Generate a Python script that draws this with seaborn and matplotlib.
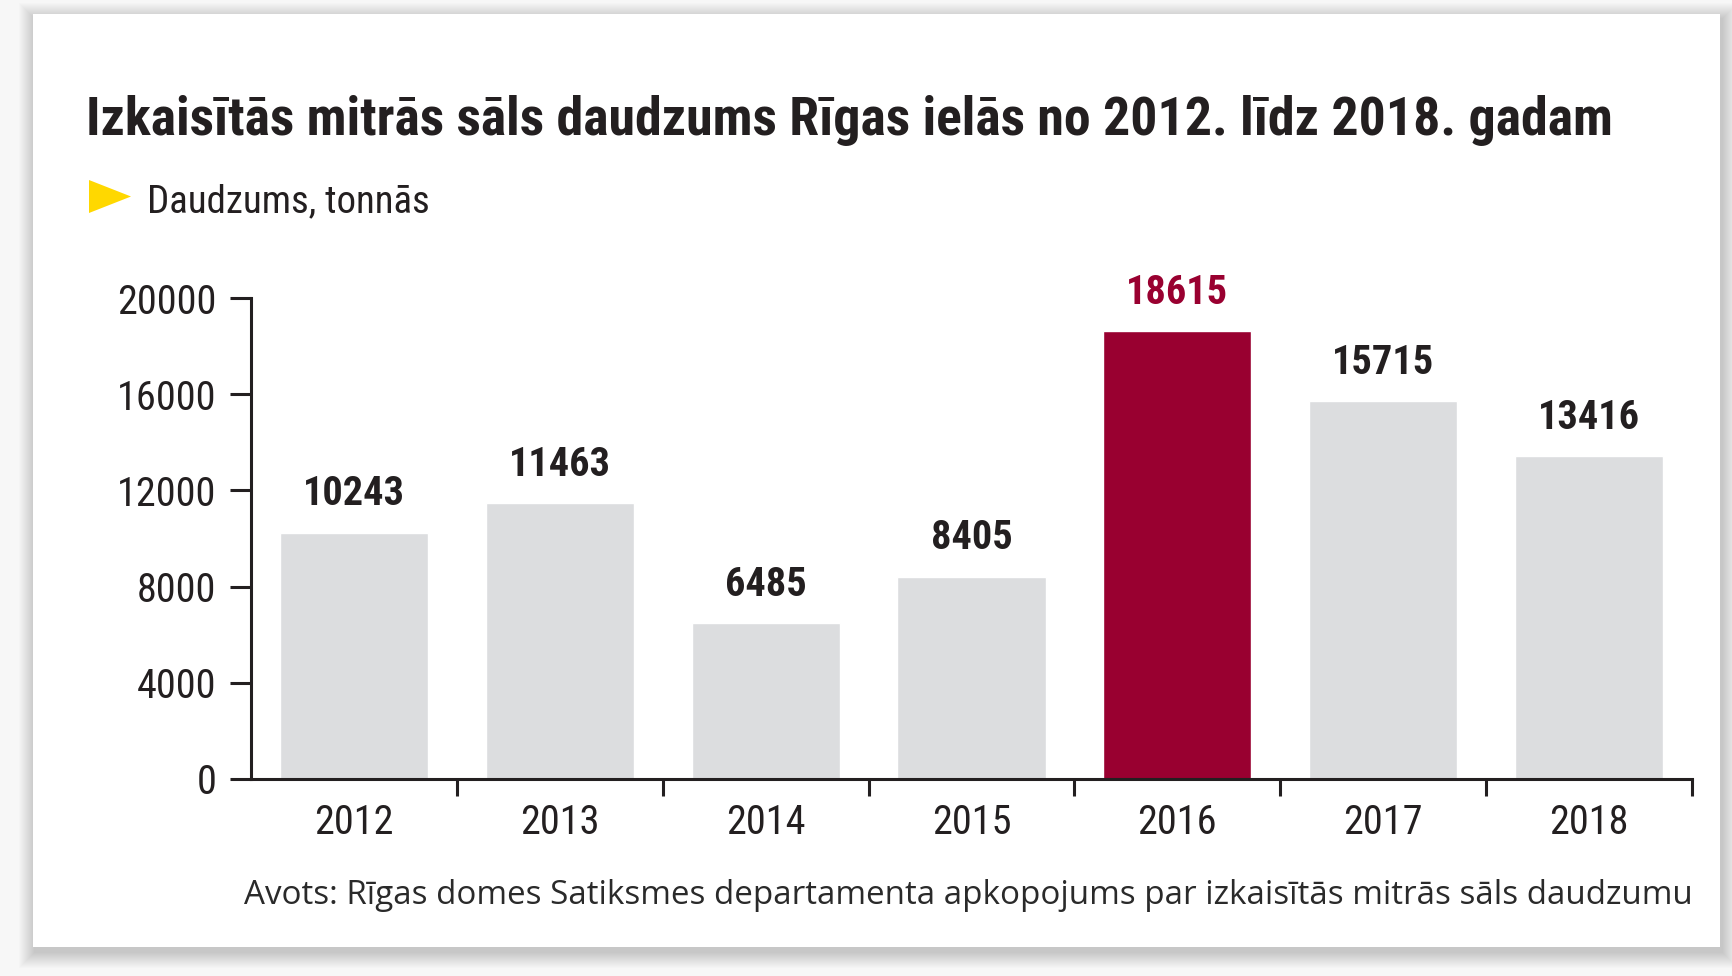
import numpy as np
import pandas as pd
import seaborn as sns
import matplotlib.pyplot as plt
from matplotlib import font_manager
from matplotlib.patches import Rectangle, Polygon

# data
years = ['2012', '2013', '2014', '2015', '2016', '2017', '2018']
amounts = [10243, 11463, 6485, 8405, 18615, 15715, 13416]
highlight = '2016'
y_ticks = [0, 4000, 8000, 12000, 16000, 20000]

title = 'Izkaisītās mitrās sāls daudzums Rīgas ielās no 2012. līdz 2018. gadam'
subtitle = 'Daudzums, tonnās'
source = 'Avots: Rīgas domes Satiksmes departamenta apkopojums par izkaisītās mitrās sāls daudzumu'

GRAY = '#dcdddf'
RED = '#990030'
INK = '#231f20'

sns.set_theme(style='white')

# pick the narrowest face that is installed
names = {f.name for f in font_manager.fontManager.ttflist}
candidates = ['Liberation Sans Narrow', 'Roboto Condensed', 'Open Sans Condensed',
              'Noto Sans Condensed', 'DejaVu Sans Condensed', 'Roboto',
              'Liberation Sans']
narrow = next((c for c in candidates if c in names), 'DejaVu Sans')
plt.rcParams['font.family'] = [narrow, 'DejaVu Sans']

W, H = 1733, 976
fig = plt.figure(figsize=(W / 100, H / 100), dpi=100)
fig.patch.set_facecolor('#f7f7f7')

# card with soft shadow
cx0, cy0, cx1, cy1 = 33, 14, 1720, 947
for i in range(16, 0, -1):
    fig.patches.append(Rectangle(((cx0 - i + 2) / W, 1 - (cy1 + i + 5) / H),
                                 (cx1 - cx0 + 2 * i) / W, (cy1 - cy0 + 2 * i) / H,
                                 transform=fig.transFigure, color='black',
                                 alpha=0.011, lw=0, zorder=-2))
fig.patches.append(Rectangle((cx0 / W, 1 - cy1 / H), (cx1 - cx0) / W, (cy1 - cy0) / H,
                             transform=fig.transFigure, color='white', lw=0, zorder=-1))

ax = fig.add_axes([251 / W, 1 - 779 / H, (1692 - 251) / W, (779 - 298) / H])
ax.set_facecolor('none')
ax.set_zorder(2)

df = pd.DataFrame({'year': years, 'amount': amounts})
palette = {y: (RED if y == highlight else GRAY) for y in years}
sns.barplot(data=df, x='year', y='amount', hue='year', palette=palette,
            legend=False, width=0.72, saturation=1, ax=ax)

ax.set_xlim(-0.5, len(years) - 0.5)
ax.set_ylim(0, 20000)
ax.set_xlabel('')
ax.set_ylabel('')

for s in ['top', 'right']:
    ax.spines[s].set_visible(False)
for s in ['left', 'bottom']:
    ax.spines[s].set_color(INK)
    ax.spines[s].set_linewidth(2.2)

ax.set_yticks(y_ticks)
ax.set_yticklabels([str(v) for v in y_ticks])
ax.tick_params(axis='y', length=15, width=2.2, color=INK, direction='out',
               pad=10, labelsize=29, labelcolor=INK, left=True)
ax.tick_params(axis='x', which='major', length=0, pad=17, labelsize=29, labelcolor=INK)
ax.set_xticks(np.arange(len(years)) + 0.5, minor=True)
ax.tick_params(axis='x', which='minor', length=12, width=2.2, color=INK,
               direction='out', bottom=True)

# value labels
for i, (y, v) in enumerate(zip(years, amounts)):
    ax.annotate(str(v), (i, v), xytext=(0, 14), textcoords='offset points',
                ha='center', va='bottom', fontsize=29, fontweight='bold',
                color=RED if y == highlight else INK, annotation_clip=False)

# title, subtitle, source
fig.canvas.draw()
r = fig.canvas.get_renderer()


def fit_text(x, y, s, width, size, **kw):
    t = fig.text(x / W, 1 - y / H, s, fontsize=size, **kw)
    w = t.get_window_extent(r).width
    t.set_fontsize(size * width / w)
    return t


fit_text(86, 135, title, 1531, 36, fontweight='bold', color=INK,
         va='baseline', ha='left', zorder=3)
fig.text(147 / W, 1 - 212 / H, subtitle, fontsize=28, color=INK,
         va='baseline', ha='left', zorder=3)
fig.patches.append(Polygon([[89 / W, 1 - 180 / H], [89 / W, 1 - 213 / H],
                            [131 / W, 1 - 196.5 / H]], closed=True,
                           transform=fig.transFigure, color='#ffd800', lw=0, zorder=3))
fit_text(244, 904, source, 1448, 24, family=['Open Sans', 'DejaVu Sans'],
         color='#2a2a2a', va='baseline', ha='left', zorder=3)

fig.savefig('out.png', dpi=100, facecolor=fig.get_facecolor())
